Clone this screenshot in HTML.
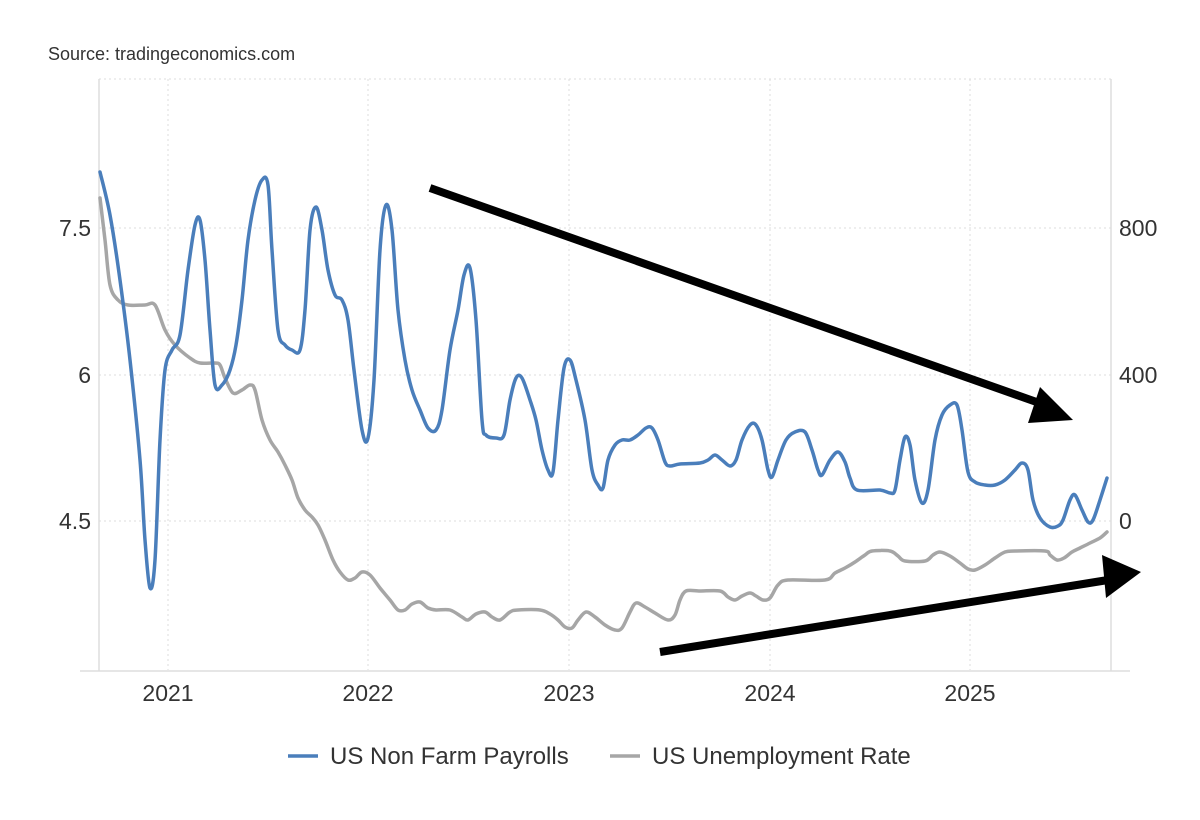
<!DOCTYPE html>
<html><head><meta charset="utf-8"><style>
html,body{margin:0;padding:0;background:#fff;width:1200px;height:820px;overflow:hidden}
svg{display:block}
text{font-family:"Liberation Sans",sans-serif}
</style></head><body>
<svg width="1200" height="820" viewBox="0 0 1200 820">
<text x="48" y="60" font-size="18" fill="#333">Source: tradingeconomics.com</text>
<g stroke="#dcdcdc" stroke-width="1" stroke-dasharray="2,3">
<line x1="99" y1="79" x2="1111" y2="79"/>
<line x1="99" y1="228" x2="1111" y2="228"/>
<line x1="99" y1="375" x2="1111" y2="375"/>
<line x1="99" y1="521" x2="1111" y2="521"/>
<line x1="168" y1="79" x2="168" y2="670"/>
<line x1="368" y1="79" x2="368" y2="670"/>
<line x1="569" y1="79" x2="569" y2="670"/>
<line x1="770" y1="79" x2="770" y2="670"/>
<line x1="970" y1="79" x2="970" y2="670"/>
</g>
<g stroke="#dddddd" stroke-width="1.5">
<line x1="99" y1="79" x2="99" y2="671"/>
<line x1="1111" y1="79" x2="1111" y2="671"/>
<line x1="80" y1="671" x2="1130" y2="671"/>
</g>
<g font-size="23" fill="#333">
<text x="91" y="236" text-anchor="end">7.5</text>
<text x="91" y="383" text-anchor="end">6</text>
<text x="91" y="529" text-anchor="end">4.5</text>
<text x="1119" y="236">800</text>
<text x="1119" y="383">400</text>
<text x="1119" y="529">0</text>
<text x="168" y="701" text-anchor="middle">2021</text>
<text x="368" y="701" text-anchor="middle">2022</text>
<text x="569" y="701" text-anchor="middle">2023</text>
<text x="770" y="701" text-anchor="middle">2024</text>
<text x="970" y="701" text-anchor="middle">2025</text>
</g>
<polyline class="sm" fill="none" stroke="#a6a6a6" stroke-width="3.5" stroke-linejoin="round" stroke-linecap="round" points="100,198 105,240 110,285 118,300 128,305 145,305 155,305 165,330 175,345 190,358 200,363 215,363 220,365 225,378 233,393 242,390 250,385 255,390 262,420 270,440 278,452 285,465 292,480 298,498 305,510 312,517 318,525 325,540 333,560 340,572 348,580 355,578 362,572 370,575 380,588 390,600 398,610 405,610 412,604 420,602 428,608 436,610 450,610 462,617 468,620 476,614 485,612 492,617 500,620 510,612 518,610 540,610 550,614 558,620 565,627 572,628 578,620 586,612 595,617 605,625 615,630 622,628 630,612 636,603 645,607 655,613 668,620 675,615 680,600 686,591 700,591 720,591 728,597 735,600 742,596 750,593 756,596 763,600 770,598 778,585 788,580 825,580 835,573 845,568 855,562 865,555 872,551 890,551 898,556 905,561 925,561 933,555 940,552 950,556 960,563 968,569 975,570 985,565 995,558 1005,552 1015,551 1045,551 1050,555 1057,560 1064,558 1072,552 1080,548 1090,543 1100,538 1107,532"/>
<polyline class="sm" fill="none" stroke="#4a7ebb" stroke-width="3.5" stroke-linejoin="round" stroke-linecap="round" points="100,172 110,215 120,280 130,360 140,460 145,540 150,588 155,560 160,440 165,370 172,350 180,335 188,270 195,225 200,220 205,260 210,330 215,385 222,385 230,370 236,345 242,300 248,240 255,200 262,180 268,185 272,250 278,330 285,345 292,350 300,350 305,310 310,230 316,207 322,230 328,270 335,295 342,300 348,320 354,370 362,430 368,438 374,380 380,250 386,205 392,230 398,310 405,360 412,390 420,410 428,428 436,430 442,410 450,350 458,310 464,275 470,268 476,320 482,420 486,435 496,438 504,435 510,400 516,378 522,378 530,400 536,420 542,450 548,470 553,472 558,420 564,368 570,360 576,380 585,420 592,470 598,485 603,488 608,460 615,445 622,440 630,440 638,435 646,428 652,428 658,440 665,462 670,466 680,464 700,463 708,460 715,455 722,460 730,466 736,460 742,440 750,425 756,425 762,440 768,470 772,477 778,460 786,440 795,432 805,432 812,450 818,470 822,475 830,460 838,452 845,462 850,478 857,490 880,490 890,493 895,490 900,460 905,437 910,445 915,480 922,503 928,490 935,440 942,415 950,405 957,405 962,430 968,472 975,482 985,485 995,485 1005,480 1015,470 1022,463 1028,470 1033,500 1040,518 1050,527 1058,526 1063,520 1070,500 1075,495 1082,510 1088,522 1093,520 1100,500 1107,478"/>
<g fill="#000" stroke="none">
<line x1="430" y1="188" x2="1045" y2="405" stroke="#000" stroke-width="8"/>
<polygon points="1073,420 1040,387 1028,423"/>
<line x1="660" y1="652" x2="1108" y2="580" stroke="#000" stroke-width="8"/>
<polygon points="1141,572 1102,555 1106,598"/>
</g>
<line x1="288" y1="756" x2="318" y2="756" stroke="#4a7ebb" stroke-width="3.5"/>
<text x="330" y="764" font-size="24" fill="#333">US Non Farm Payrolls</text>
<line x1="610" y1="756" x2="640" y2="756" stroke="#a6a6a6" stroke-width="3.5"/>
<text x="652" y="764" font-size="24" fill="#333">US Unemployment Rate</text>
</svg>
<script>
document.querySelectorAll('polyline.sm').forEach(function(pl){
  var p=pl.getAttribute('points').trim().split(/\s+/).map(function(s){var a=s.split(',');return [+a[0],+a[1]];});
  var d='M'+p[0][0]+','+p[0][1];
  for(var i=0;i<p.length-1;i++){
    var p0=p[i-1]||p[i],p1=p[i],p2=p[i+1],p3=p[i+2]||p2;
    var c1=[p1[0]+(p2[0]-p0[0])/6,p1[1]+(p2[1]-p0[1])/6];
    var c2=[p2[0]-(p3[0]-p1[0])/6,p2[1]-(p3[1]-p1[1])/6];
    d+=' C'+c1[0].toFixed(1)+','+c1[1].toFixed(1)+' '+c2[0].toFixed(1)+','+c2[1].toFixed(1)+' '+p2[0]+','+p2[1];
  }
  var path=document.createElementNS('http://www.w3.org/2000/svg','path');
  ['fill','stroke','stroke-width','stroke-linejoin','stroke-linecap'].forEach(function(a){path.setAttribute(a,pl.getAttribute(a));});
  path.setAttribute('d',d);
  pl.parentNode.replaceChild(path,pl);
});
</script>
</body></html>
